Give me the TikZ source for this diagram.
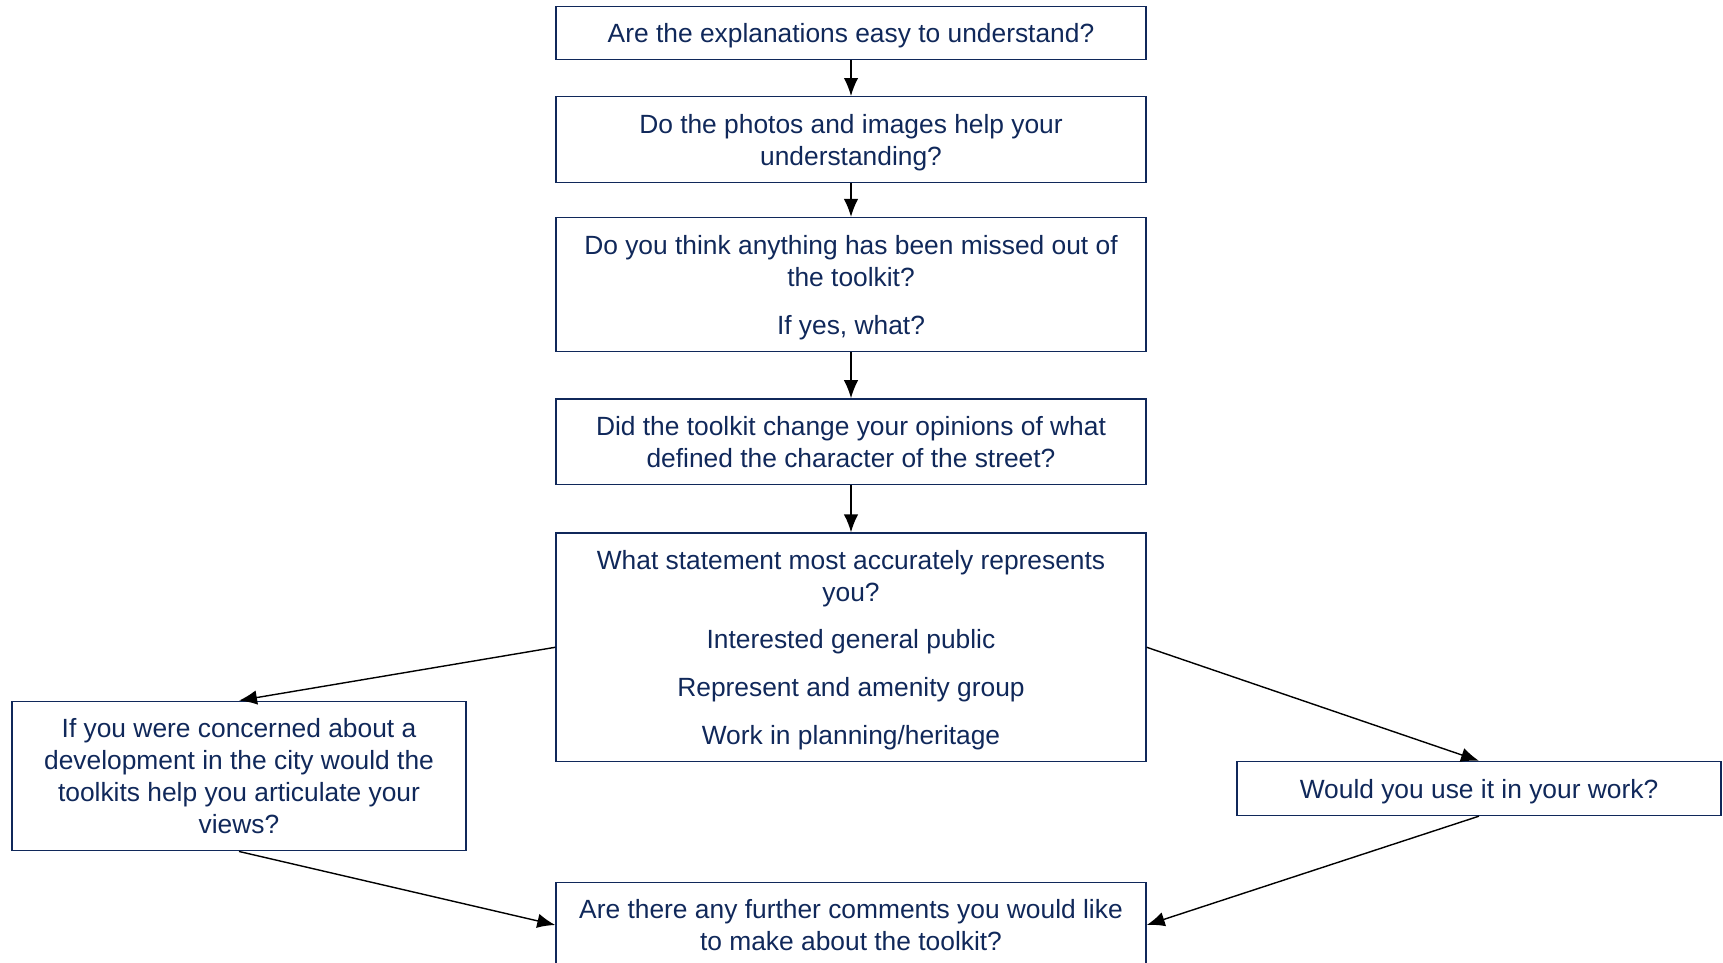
\documentclass[tikz,border=0pt]{standalone}
\usepackage{fontspec}
\setmainfont{Liberation Sans}
\usetikzlibrary{positioning,arrows.meta}
\definecolor{navy}{HTML}{10285A}

\begin{document}
\begin{tikzpicture}[node distance=0.75cm,
    qbox/.style={rectangle, draw=navy, line width=0.8pt, text=navy, align=center,
        minimum width=11.8cm, font=\fontsize{15}{18.2}\selectfont, text depth=-2.6pt},
    flow/.style={-{Latex[length=0.36cm,width=0.29cm]}, line width=0.8pt}]
    \useasboundingbox (0,0) rectangle (34.46,-19.26);

    \node[qbox, minimum height=1.054cm] (explain) at (17.02,-0.659) {Are the explanations easy to understand?};
    \node[qbox, minimum height=1.714cm, below=0.72cm of explain] (photos) {Do the photos and images help your\\understanding?};
    \node[qbox, minimum height=2.68cm, below=0.676cm of photos] (missed) {Do you think anything has been missed out of\\the toolkit?\\[9pt]If yes, what?};
    \node[qbox, minimum height=1.714cm, below=0.918cm of missed] (opinion) {Did the toolkit change your opinions of what\\defined the character of the street?};
    \node[qbox, minimum height=4.57cm, below=0.94cm of opinion] (statement) {What statement most accurately represents\\you?\\[9pt]Interested general public\\[9pt]Represent and amenity group\\[9pt]Work in planning/heritage};
    \node[qbox, minimum width=9.08cm, minimum height=2.99cm] (concern) at (4.78,-15.52) {If you were concerned about a\\development in the city would the\\toolkits help you articulate your\\views?};
    \node[qbox, minimum width=9.68cm, minimum height=1.078cm] (work) at (29.58,-15.77) {Would you use it in your work?};
    \node[qbox, minimum height=1.7cm] (further) at (17.02,-18.50) {Are there any further comments you would like\\to make about the toolkit?};

    \draw[flow] (explain) -- (photos);
    \draw[flow] (photos) -- (missed);
    \draw[flow] (missed) -- (opinion);
    \draw[flow] (opinion) -- (statement);
    \draw[flow] (statement.west) -- (concern.north);
    \draw[flow] (statement.east) -- (work.north);
    \draw[flow] (concern.south) -- (further.west);
    \draw[flow] (work.south) -- (further.east);
\end{tikzpicture}
\end{document}
